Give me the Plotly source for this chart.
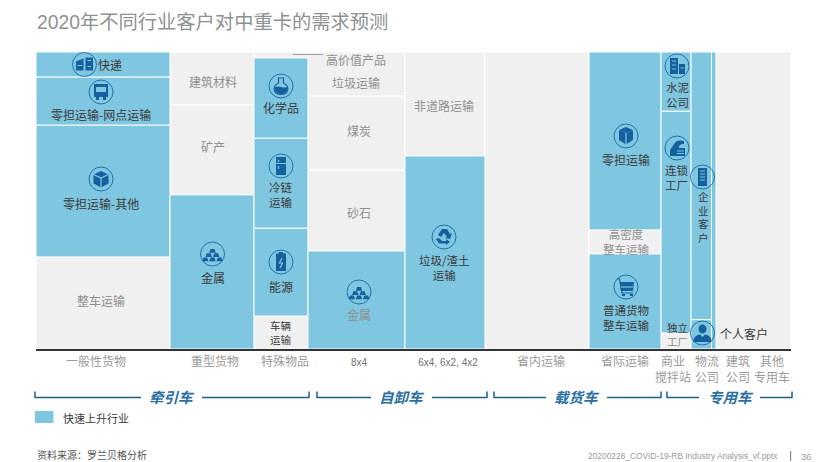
import re
import plotly.graph_objects as go

# ---------- data ----------
axis_labels = ["一般性货物", "重型货物", "特殊物品", "8x4", "6x4, 6x2, 4x2", "省内运输", "省际运输",
               "商业<br>搅拌站", "物流<br>公司", "建筑<br>公司", "其他<br>专用车"]
col_widths = [17.75, 11.12, 7.15, 12.85, 10.6, 13.78, 9.54, 3.97, 2.71, 0.6, 9.93]
col_segments = [
    ["整车运输", "零担运输-其他", "零担运输-网点运输", "快递"],
    ["金属", "矿产", "建筑材料"],
    ["车辆运输", "能源", "冷链运输", "化学品", "高价值产品"],
    ["金属", "砂石", "煤炭", "垃圾运输"],
    ["垃圾/渣土运输", "非道路运输"],
    ["省内运输"],
    ["普通货物整车运输", "高密度整车运输", "零担运输"],
    ["独立工厂", "连锁工厂", "水泥公司"],
    ["个人客户", "企业客户"],
    ["建筑公司"],
    ["其他专用车"],
]
col_values = [
    [31.0, 44.4, 16.2, 8.4],
    [51.9, 30.3, 17.8],
    [11.1, 29.6, 30.3, 27.0, 2.0],
    [33.0, 27.3, 24.9, 14.8],
    [65.0, 35.0],
    [100.0],
    [32.0, 8.1, 59.9],
    [5.4, 74.7, 19.9],
    [9.9, 90.1],
    [100.0],
    [100.0],
]
col_fast = [
    [0, 1, 1, 1],
    [1, 0, 0],
    [0, 1, 1, 1, 0],
    [1, 0, 0, 0],
    [1, 0],
    [0],
    [1, 0, 1],
    [0, 1, 1],
    [1, 1],
    [1],
    [0],
]
title_text = "2020年不同行业客户对中重卡的需求预测"
legend_text = "快速上升行业"
source_text = "资料来源：罗兰贝格分析"
file_text = "20200228_COVID-19-RB Industry Analysis_vf.pptx"
page_text = "36"

# ---------- geometry / style ----------
W, H = 828, 462
L, R, T, B = 36, 791, 52, 349
BLUE, GREY = "#7fc6e0", "#f0f0f0"
ICON, RING = "#14619f", "#2273aa"
DARK, MID = "#3a3a3a", "#8f8f8f"
FONT = "Noto Sans CJK SC, sans-serif"
LATIN = "Liberation Sans, Noto Sans CJK SC, sans-serif"


def px(x):
    return (x - L) / (R - L)


def py(y):
    return (B - y) / (B - T)


# ---------- marks ----------
xb, wb, bb, yb, nb = {0: [], 1: []}, {0: [], 1: []}, {0: [], 1: []}, {0: [], 1: []}, {0: [], 1: []}
left = 0.0
for label, width, names, values, fast in zip(axis_labels, col_widths, col_segments, col_values, col_fast):
    base = 0.0
    for name, value, f in zip(names, values, fast):
        xb[f].append(left + width / 2)
        wb[f].append(width)
        bb[f].append(base)
        yb[f].append(value)
        nb[f].append(name + " · " + label.replace("<br>", ""))
        base += value
    left += width

fig = go.Figure()
for f, color, series in [(0, GREY, "其他行业"), (1, BLUE, legend_text)]:
    fig.add_trace(go.Bar(
        x=xb[f], width=wb[f], base=bb[f], y=yb[f], name=series, text=nb[f], textposition="none",
        hovertemplate="%{text}<br>%{y:.1f}%<extra></extra>",
        marker=dict(color=color, line=dict(color="white", width=1)),
    ))

shapes, ann = [], []


def text(x, y, s, size=12, color=DARK, anchor="center", font=FONT, **kw):
    ann.append(dict(x=px(x), y=py(y), xref="paper", yref="paper", text=s, showarrow=False, xanchor=anchor,
                    yanchor="middle", font=dict(size=size, color=color, family=font), **kw))


def line(x0, y0, x1, y1, color, width=1.0):
    shapes.append(dict(type="line", xref="paper", yref="paper", x0=px(x0), y0=py(y0), x1=px(x1), y1=py(y1),
                       line=dict(color=color, width=width)))


def to_paper(path, cx, cy):
    return re.sub(r"(-?\d+\.?\d*),(-?\d+\.?\d*)",
                  lambda m: f"{px(cx + float(m.group(1))):.5f},{py(cy + float(m.group(2))):.5f}", path)


def glyph(path, cx, cy, fill=ICON, stroke=None, sw=1.0):
    shapes.append(dict(type="path", xref="paper", yref="paper", path=to_paper(path, cx, cy),
                       fillcolor=fill if fill else "rgba(0,0,0,0)",
                       line=dict(color=stroke if stroke else "rgba(0,0,0,0)", width=sw if stroke else 0)))


GOLD = " ".join(f"M{x-3.2},{y+2.2} L{x-1.9},{y-1.6} L{x+1.9},{y-1.6} L{x+3.2},{y+2.2} Z"
                for x, y in [(0, -3.4), (-3.7, 0.8), (3.7, 0.8), (-7.2, 5), (0, 5), (7.2, 5)])
ICONS = {
    "parcel": [("M-8.5,-3 L-1,-6 L-1,6 L-8.5,6 Z M1,-7 L8.5,-7 L8.5,6 L1,6 Z", None),
               ("M-7,1 L-2.5,1 M3,-4 L6.5,-4 M3,2 L6.5,2", "w")],
    "truck": [("M-7,-8 L7,-8 L7,5 L5,5 L5,8 L2,8 L2,5 L-2,5 L-2,8 L-5,8 L-5,5 L-7,5 Z", None),
              ("M-5,-5 L5,-5 L5,0 L-5,0 Z", "f")],
    "cube": [("M0,-8 L7.5,-4.5 L7.5,4.5 L0,8.5 L-7.5,4.5 L-7.5,-4.5 Z", None),
             ("M-7.5,-4.5 L0,-1 L7.5,-4.5 M0,-1 L0,8.5", "w")],
    "flask": [("M-2.5,-8 L2.5,-8 L2.5,-3 C9,0 8,8.5 0,8.5 C-8,8.5 -9,0 -2.5,-3 Z", "o"),
              ("M-6,1 C-2,-1 2,3 6,1 C7,6 3,8 0,8 C-3,8 -7,6 -6,1 Z", None)],
    "fridge": [("M-5,-9 L5,-9 L5,9 L-5,9 Z", None), ("M-5,-2.5 L5,-2.5 M-2.5,-6 L-2.5,-4 M-2.5,0 L-2.5,3", "w")],
    "battery": [("M-2,-10 L2,-10 L2,-8.5 L5,-8.5 L5,9 L-5,9 L-5,-8.5 L-2,-8.5 Z", None),
                ("M1,-4 L-1.5,1 L1.5,1 L-1,6", "w")],
    "gold": [(GOLD, None)],
    "recycle": [("M-2,-8 L3,-8 L6,-3 L8,-4 L6,2 L1,1 L3,0 L0,-4 L-3,0 L-6,-2 Z", None),
                ("M-8,2 L-5,1 L-2,4 L2,4 L2,2 L6,5 L2,8 L2,6.5 L-5,6.5 Z", None)],
    "openbox": [("M0,-3 L7,-6 L7,4 L0,8.5 L-7,4 L-7,-6 Z", None),
                ("M0,-3 L0,8.5 M-7,-6 L0,-9 L7,-6", "w"), ("M0,-9 L7,-6 L0,-3 L-7,-6 Z", None)],
    "cart": [("M-6,-5 L8,-5 L7,4 L-5,4 Z", None), ("M-9,-8 L-6.5,-8 L-4,6 L7,6", "o"),
             ("M-5,0 L7,0", "w"), ("M-4,7 L-1,7 L-1,9 L-4,9 Z M4,7 L7,7 L7,9 L4,9 Z", None)],
    "city": [("M-7,-8 L1,-8 L1,8 L-7,8 Z M2,-2 L8,-2 L8,8 L2,8 Z", None),
             ("M-5,-5 L-1,-5 M-5,-1 L-1,-1 M-5,3 L-1,3 M3.5,2 L7,2", "w")],
    "factory": [("M-7,8 L-7,2 L-3,-4 C-1,-8 3,-8 7,-7 L7,-4 C3,-4 2,-3 2,0 L8,0 L8,8 Z", None),
                ("M0,3 L7,3 M0,5.5 L7,5.5", "w")],
    "tower": [("M-4.5,-9 L4.5,-9 L4.5,9 L-4.5,9 Z", None), ("M-2.5,-6 L2.5,-6 M-2.5,-3 L2.5,-3 M-2.5,0 L2.5,0 M-2.5,3 L2.5,3", "w")],
    "person": [("M-4,-4 C-4,-10 4,-10 4,-4 C4,2 -4,2 -4,-4 Z", None),
               ("M-9,9 C-9,3 -5,2 -2.5,1.5 L0,4 L2.5,1.5 C5,2 9,3 9,9 Z", None)],
}


def icon(kind, cx, cy, r=12):
    shapes.append(dict(type="circle", xref="paper", yref="paper", x0=px(cx - r), x1=px(cx + r),
                       y0=py(cy + r), y1=py(cy - r), line=dict(color=RING, width=1),
                       fillcolor="rgba(255,255,255,0.0)"))
    for path, mode in ICONS[kind]:
        if mode == "w":
            glyph(path, cx, cy, fill=None, stroke=BLUE, sw=1.2)
        elif mode == "o":
            glyph(path, cx, cy, fill=None, stroke=ICON, sw=1.2)
        elif mode == "f":
            glyph(path, cx, cy, fill=BLUE)
        else:
            glyph(path, cx, cy)


for kind, cx, cy in [("parcel", 84.5, 64.5), ("truck", 101, 92), ("cube", 101, 179), ("flask", 281, 86),
                     ("fridge", 281, 166), ("battery", 281, 262), ("gold", 212.5, 254), ("gold", 359, 292),
                     ("recycle", 444, 237), ("openbox", 626, 136), ("cart", 626, 287), ("city", 677, 66),
                     ("factory", 677, 148), ("tower", 702.5, 177), ("person", 702.5, 333)]:
    icon(kind, cx, cy)

# ---------- segment labels ----------
for x, y, s, c, sz in [
    (110, 64, "快递", DARK, 12), (101, 114, "零担运输-网点运输", DARK, 12), (101, 203, "零担运输-其他", DARK, 12),
    (101, 300, "整车运输", MID, 12), (213, 81, "建筑材料", MID, 12), (213, 146, "矿产", MID, 12), (213, 277, "金属", DARK, 12),
    (281, 107, "化学品", DARK, 12), (281, 194, "冷链<br>运输", DARK, 11.5), (281, 286, "能源", DARK, 12),
    (281, 332.5, "车辆<br>运输", DARK, 10.5), (356, 59, "高价值产品", MID, 12), (356, 82, "垃圾运输", MID, 12),
    (359, 130, "煤炭", MID, 12), (359, 212, "砂石", MID, 12), (359, 314, "金属", MID, 12), (444, 105, "非道路运输", MID, 12),
    (444, 267.5, "垃圾/渣土<br>运输", DARK, 11.5), (626, 159, "零担运输", DARK, 12),
    (626, 241, "高密度<br>整车运输", MID, 11.5), (626, 317.5, "普通货物<br>整车运输", DARK, 11.5),
    (677, 94, "水泥<br>公司", DARK, 11.5), (677, 177, "连锁<br>工厂", DARK, 11.5),
    (677, 334, f'独立<br><span style="color:{MID}">工厂</span>', DARK, 10.5),
    (703, 217, "企<br>业<br>客<br>户", DARK, 10.5),
    (744, 333, "个人客户", DARK, 12),
]:
    text(x, y, s, color=c, size=sz)
line(293, 54.5, 323, 54.5, "#a0a0a0", 1)

# ---------- title, brackets, legend, footer ----------
text(35, 23, title_text, size=19.3, color="#8e9194", anchor="left", font=LATIN)
BR = "#1d5f90"
for name, x0, a, b, x1, c in [("牵引车", 35, 141, 202, 309, 172), ("自卸车", 317, 371, 432, 487, 402),
                              ("载货车", 494, 546, 607, 661, 577), ("专用车", 667, 699, 760, 792, 731)]:
    line(x0, 397.5, a, 397.5, BR, 1.5)
    line(b, 397.5, x1, 397.5, BR, 1.5)
    line(x0, 391.5, x0, 398, BR, 1.5)
    line(x1, 391.5, x1, 398, BR, 1.5)
    text(c, 396.5, "<b><i>" + name + "</i></b>", size=14.5, color="#2b70a0")

shapes.append(dict(type="rect", xref="paper", yref="paper", x0=px(35), x1=px(53.5), y0=py(423), y1=py(411),
                   fillcolor=BLUE, line=dict(width=0)))
text(61, 418, legend_text, size=11, anchor="left")
text(35, 454, source_text, size=10, color="#555555", anchor="left")
text(780, 456, file_text, size=8.4, color="#9a9a9a", anchor="right", font=LATIN)
line(790.7, 451, 790.7, 461, "#777777", 1)
text(806, 456, page_text, size=9.5, color="#9a9a9a", font=LATIN)

# ---------- axis label positions (px centres of labels) ----------
label_centres = [96, 215, 285, 359, 448, 541, 625, 673, 707, 738, 772]
latin_ticks = {"8x4", "6x4, 6x2, 4x2"}
tick_display = [f'<span style="font-size:10px;color:#707070">{t}</span>' if t in latin_ticks else t
                for t in axis_labels]
fig.update_layout(
    width=W, height=H, barmode="overlay", showlegend=False, plot_bgcolor="white", paper_bgcolor="white",
    margin=dict(l=L, r=W - R, t=T, b=H - B, autoexpand=False),
    font=dict(family=FONT),
    xaxis=dict(range=[0, 100], tickmode="array", tickvals=[px(c) * 100 for c in label_centres],
               ticktext=tick_display, ticks="", tickangle=0, showgrid=False, zeroline=False, showline=True,
               linecolor="#333333", linewidth=1.5, tickfont=dict(size=12, color="#9a9a9a", family=LATIN),
               ticklabelstandoff=1, automargin=False),
    yaxis=dict(range=[0, 100], visible=False),
    shapes=shapes, annotations=ann,
)
fig.write_html("out.html", config=dict(displayModeBar=False),
               post_script="document.body.style.margin='0';document.body.style.overflow='hidden';")
